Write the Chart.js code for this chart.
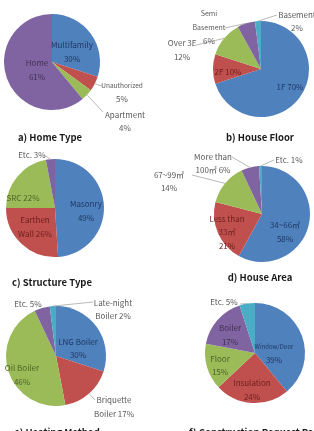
<!DOCTYPE html>
<html>
<head>
<meta charset="utf-8">
<script src="https://cdn.jsdelivr.net/npm/chart.js"></script>
<style>
html, body { margin: 0; padding: 0; background: #fff; overflow: hidden; }
#wrap { position: relative; width: 314px; height: 431px; overflow: hidden; }
#wrap canvas { position: absolute; left: 0; top: 0; }
.title { position: absolute; font: bold 9.5px "Noto Sans CJK KR", sans-serif; color: #1a1a1a; white-space: nowrap; transform: translate(-50%, -50%); }
.title.left { transform: translate(0, -50%); }
</style>
</head>
<body>
<div id="wrap">
  <canvas id="pieA" width="314" height="431"></canvas>
  <canvas id="pieB" width="314" height="431"></canvas>
  <canvas id="pieC" width="314" height="431"></canvas>
  <canvas id="pieD" width="314" height="431"></canvas>
  <canvas id="pieE" width="314" height="431"></canvas>
  <canvas id="pieF" width="314" height="431"></canvas>
  <div class="title" style="left:50px; top:137px;">a) Home Type</div>
  <div class="title" style="left:260px; top:137px;">b) House Floor</div>
  <div class="title" style="left:52px; top:282px;">c) Structure Type</div>
  <div class="title" style="left:260px; top:277px;">d) House Area</div>
  <div class="title" style="left:57px; top:432px;">e) Heating Method</div>
  <div class="title left" style="left:189px; top:432px;">f) Construction Request Part</div>
</div>
<script>
// data
const homeTypeCats = ['Multifamily', 'Unauthorized', 'Apartment', 'Home'];
const homeTypeVals = [30, 5, 4, 61];
const floorCats = ['1F', '2F', 'Over 3F', 'Semi\nBasement', 'Basement'];
const floorVals = [70, 10, 12, 6, 2];
const structureCats = ['Masonry', 'Earthen\nWall', 'SRC', 'Etc.'];
const structureVals = [49, 26, 22, 3];
const areaCats = ['34~66㎡', 'Less than\n33㎡', '67~99㎡', 'More than\n100㎡', 'Etc.'];
const areaVals = [58, 21, 14, 6, 1];
const heatingCats = ['LNG Boiler', 'Briquette\nBoiler', 'Oil Boiler', 'Etc.', 'Late-night\nBoiler'];
const heatingVals = [30, 17, 46, 5, 2];
const requestCats = ['Window/Door', 'Insulation', 'Floor', 'Boiler', 'Etc.'];
const requestVals = [39, 24, 15, 17, 5];

const sliceColors = ['#4F81BD', '#C0504D', '#9BBB59', '#8064A2', '#4BACC6'];
const insideText = ['#1F3864', '#6B1F1D', '#4F6228', '#3F3151', '#215968'];
const outsideText = '#595959';
const FONT = '"Noto Sans CJK KR", "Noto Sans", sans-serif';

const W = 314, H = 431;

const pieLabels = {
    id: 'pieLabels',
    afterDatasetsDraw(chart, args, opts) {
        const ctx = chart.ctx;
        const meta = chart.getDatasetMeta(0);
        const ds = chart.data.datasets[0];
        ctx.save();
        meta.data.forEach((arc, i) => {
            const spot = opts.spots[i];
            const p = arc.getProps(['x', 'y', 'startAngle', 'endAngle', 'outerRadius'], true);
            const mid = (p.startAngle + p.endAngle) / 2;
            if (spot.lead) {
                ctx.beginPath();
                ctx.moveTo(p.x + Math.cos(mid) * p.outerRadius, p.y + Math.sin(mid) * p.outerRadius);
                ctx.lineTo(p.x + spot.lead[0], p.y + spot.lead[1]);
                ctx.strokeStyle = '#a6a6a6';
                ctx.lineWidth = 0.8;
                ctx.stroke();
            }
            const text = chart.data.labels[i] + (spot.sep || '\n') + ds.data[i] + '%';
            const lines = text.split('\n');
            const lh = 13.5;
            ctx.fillStyle = spot.out ? outsideText : insideText[i];
            ctx.textAlign = 'center';
            ctx.textBaseline = 'middle';
            lines.forEach((ln, k) => {
                const size = (k < lines.length - 1 && spot.nameSize) ? spot.nameSize : 8;
                ctx.font = size + 'px ' + FONT;
                ctx.fillText(ln, p.x + spot.dx, p.y + spot.dy + (k - (lines.length - 1) / 2) * lh);
            });
        });
        ctx.restore();
    }
};

function makePie(id, cats, vals, cx, cy, r, spots) {
    return new Chart(document.getElementById(id), {
        type: 'pie',
        data: {
            labels: cats,
            datasets: [{
                data: vals,
                backgroundColor: sliceColors.slice(0, vals.length),
                borderWidth: 0
            }]
        },
        options: {
            responsive: false,
            animation: false,
            layout: {
                padding: { left: cx - r, top: cy - r, right: W - cx - r, bottom: H - cy - r }
            },
            plugins: {
                legend: { display: false },
                tooltip: { enabled: false },
                pieLabels: { spots: spots }
            }
        },
        plugins: [pieLabels]
    });
}

makePie('pieA', homeTypeCats, homeTypeVals, 52, 62, 48, [
    { dx: 20, dy: -10 },
    { dx: 70, dy: 30.5, out: true, nameSize: 6.5, lead: [50, 24] },
    { dx: 73, dy: 59.5, out: true, lead: [51, 50] },
    { dx: -15, dy: 8 }
]);

makePie('pieB', floorCats, floorVals, 261, 69, 48, [
    { dx: 29, dy: 18, sep: ' ' },
    { dx: -33, dy: 3, sep: ' ' },
    { dx: -79, dy: -19, out: true, lead: [-69, -23] },
    { dx: -52, dy: -42, out: true, nameSize: 7, lead: [-36, -41] },
    { dx: 36, dy: -47.5, out: true, lead: [16, -54] }
]);

makePie('pieC', structureCats, structureVals, 55, 208, 49, [
    { dx: 31, dy: 3 },
    { dx: -20, dy: 19, sep: ' ' },
    { dx: -32, dy: -10, sep: ' ' },
    { dx: -23, dy: -53, sep: ' ', out: true, lead: [-11, -53] }
]);

makePie('pieD', areaCats, areaVals, 262, 214, 48, [
    { dx: 23, dy: 18 },
    { dx: -35, dy: 18 },
    { dx: -93, dy: -32.5, out: true, lead: [-70, -39] },
    { dx: -49, dy: -50.5, sep: ' ', out: true, lead: [-30, -57] },
    { dx: 27, dy: -54, sep: ' ', out: true, lead: [12, -54] }
]);

makePie('pieE', heatingCats, heatingVals, 56, 356, 50, [
    { dx: 22, dy: -7.5 },
    { dx: 58, dy: 51, sep: ' ', out: true, lead: [39, 44] },
    { dx: -34, dy: 19 },
    { dx: -28, dy: -52, sep: ' ', out: true },
    { dx: 57, dy: -46.5, sep: ' ', out: true, lead: [37, -54] }
]);

makePie('pieF', requestCats, requestVals, 255, 353, 50, [
    { dx: 19, dy: 0, nameSize: 6 },
    { dx: -3, dy: 37 },
    { dx: -35, dy: 12.5 },
    { dx: -25, dy: -18 },
    { dx: -31, dy: -51, sep: ' ', out: true, lead: [-15, -49] }
]);
</script>
</body>
</html>
